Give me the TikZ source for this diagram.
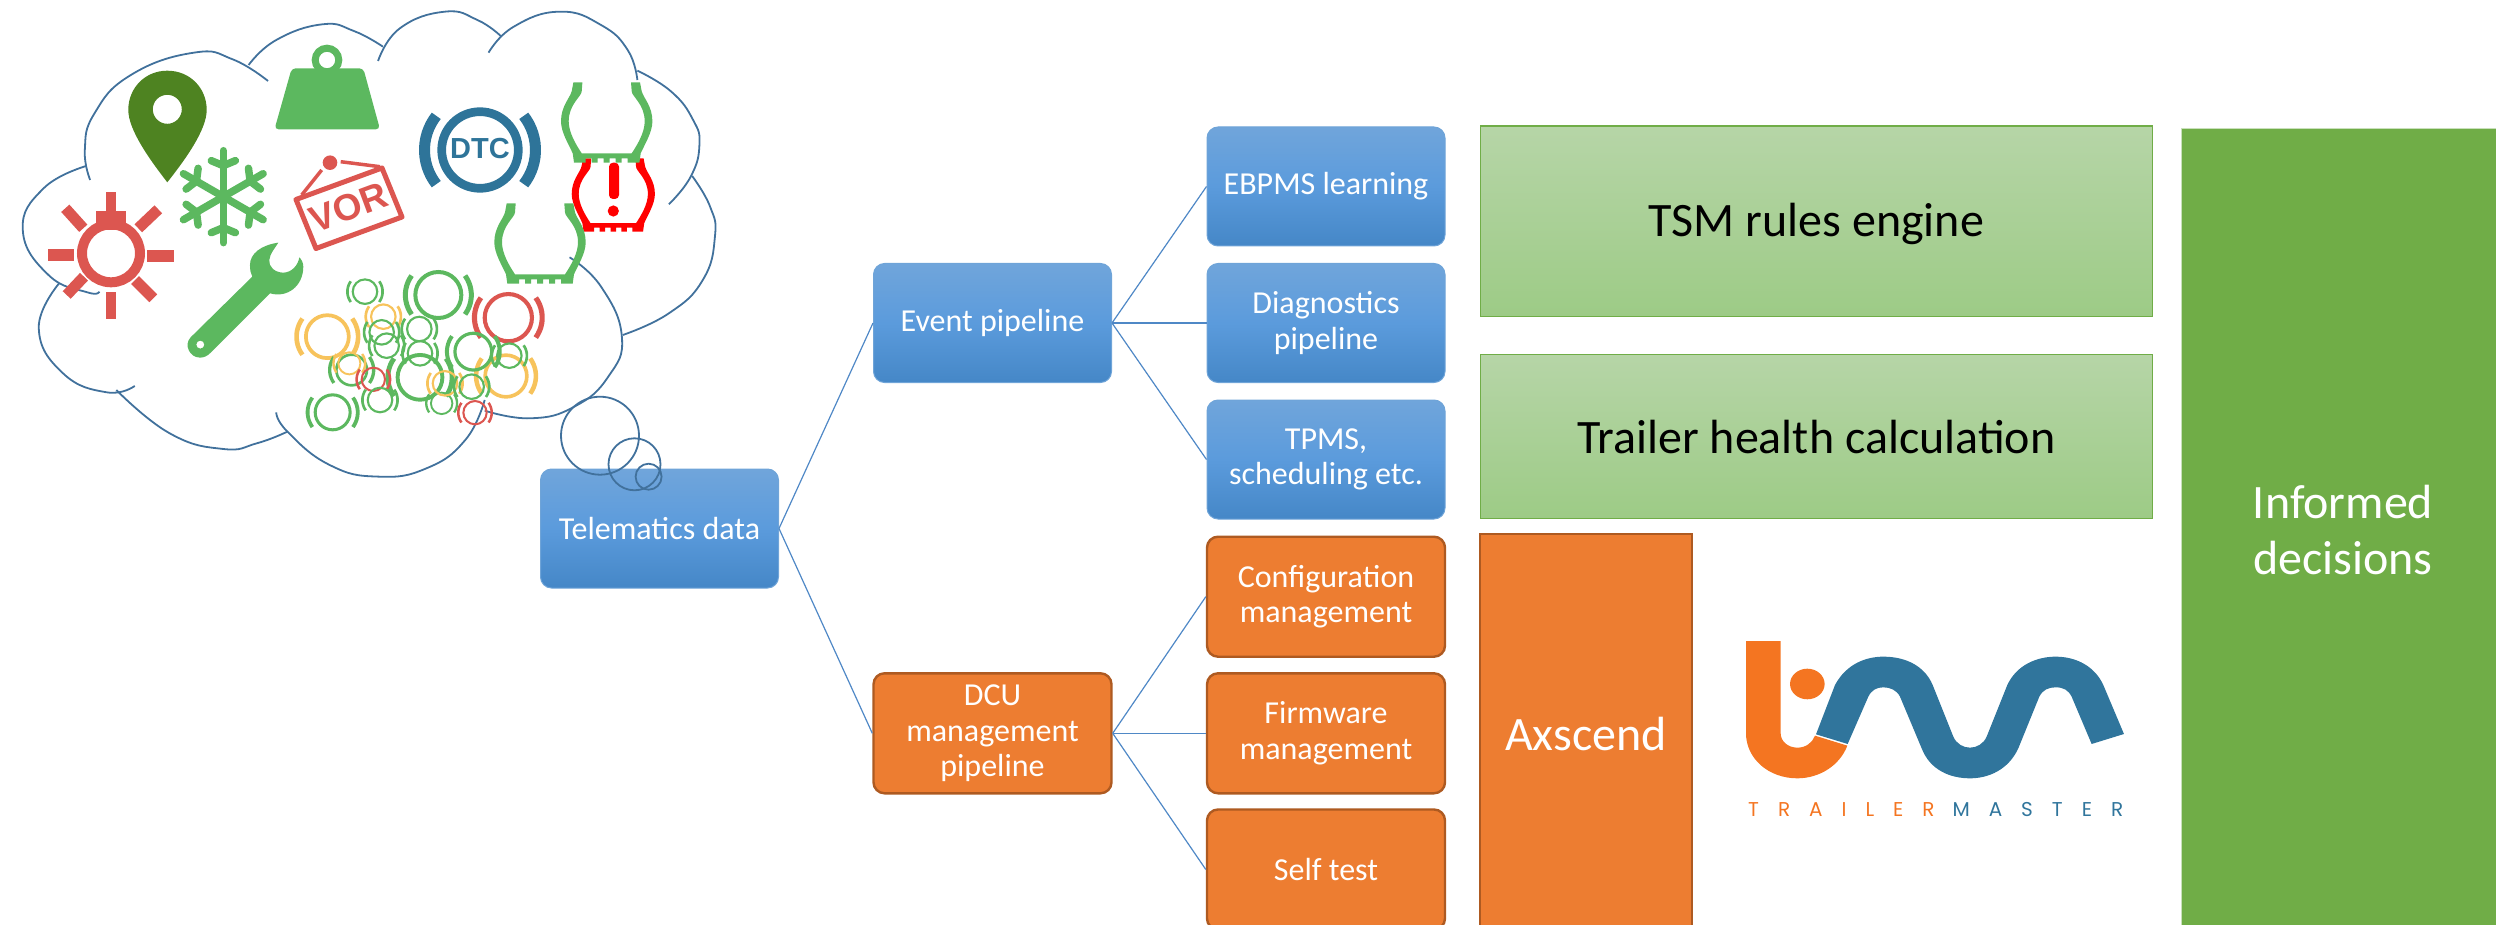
\documentclass[tikz,border=0pt]{standalone}
\usepackage{fontspec}
\setmainfont{Carlito}
\newfontfamily\iconfont{Liberation Sans}
\newfontfamily\logofont[LetterSpace=95]{Poppins}
\definecolor{bluetop}{HTML}{70A5DB}
\definecolor{bluemid}{HTML}{5B9BDC}
\definecolor{bluebot}{HTML}{4587C7}
\definecolor{blueedge}{HTML}{6FA4D8}
\definecolor{orangefill}{HTML}{ED7D31}
\definecolor{orangeedge}{HTML}{AE5A21}
\definecolor{greentop}{HTML}{B6D5A7}
\definecolor{greenbot}{HTML}{9DCB86}
\definecolor{greenedge}{HTML}{70AD47}
\definecolor{decide}{HTML}{70AD47}
\definecolor{decideedge}{HTML}{C9E0BB}
\definecolor{conn}{HTML}{4F88C6}
\definecolor{cloudc}{HTML}{41719C}
\definecolor{ig}{HTML}{5CB85F}
\definecolor{ir}{HTML}{DC5650}
\definecolor{iy}{HTML}{F7C35C}
\definecolor{pincol}{HTML}{4E8321}
\definecolor{dtc}{HTML}{2E7499}
\definecolor{logoo}{HTML}{F47521}
\definecolor{logob}{HTML}{30759C}
\tikzset{
  bluebox/.style={draw=blueedge,line width=1pt,rounded corners=11pt,top color=bluetop,bottom color=bluebot,middle color=bluemid,
    text=white,align=center,inner sep=0pt,minimum width=238pt,minimum height=119pt,font=\fontsize{32}{35.3}\selectfont},
  orangebox/.style={draw=orangeedge,line width=2.4pt,rounded corners=11pt,fill=orangefill,
    text=white,align=center,inner sep=0pt,minimum width=238pt,minimum height=120pt,font=\fontsize{32}{35.3}\selectfont},
  greenbox/.style={draw=greenedge,line width=1.4pt,top color=greentop,bottom color=greenbot,
    text=black,align=center,inner sep=0pt,minimum width=672pt,text depth=0pt,font=\fontsize{48}{55}\selectfont},
  link/.style={draw=conn,line width=1.2pt},
  cloudline/.style={draw=cloudc,line width=1.8pt},
  lobe/.style={smooth,tension=.8},
  pics/tire/.style={code={
    \fill[#1] (-33.3,0) -- (-24.3,0) -- (-25,9) .. controls (-25,14) and (-38,22) .. (-38,39)
      .. controls (-38,50) and (-31,62) .. (-25,71) -- (25,71) .. controls (31,62) and (38,50) .. (38,39)
      .. controls (38,22) and (25,14) .. (25,9) -- (24.3,0) -- (33.3,0) -- (35,9)
      .. controls (37,16) and (45.7,24) .. (45.7,39) .. controls (45.7,50) and (38,62) .. (34,71)
      -- (32.7,80.3) -- (21,80.3) -- (21,76) -- (15,76) -- (15,80.3) -- (9,80.3) -- (9,76) -- (3,76) -- (3,80.3)
      -- (-3,80.3) -- (-3,76) -- (-9,76) -- (-9,80.3) -- (-15,80.3) -- (-15,76) -- (-21,76) -- (-21,80.3)
      -- (-32.7,80.3) -- (-34,71) .. controls (-38,62) and (-45.7,50) .. (-45.7,39)
      .. controls (-45.7,24) and (-37,16) .. (-35,9) -- cycle;
  }}
}
\begin{document}
\begin{tikzpicture}[x=1pt,y=-1pt]
\useasboundingbox (0,0) rectangle (2496,925);
\clip (0,0) rectangle (2496,925);

% boxes
\node[bluebox] (tele) at (659.5,528.5) {Telematics data};
\node[bluebox] (event) at (992.5,323) {Event pipeline};
\node[bluebox] (ebpms) at (1326,186.5) {EBPMS learning};
\node[bluebox] (diag) at (1326,323) {Diagnostics\\pipeline};
\node[bluebox] (tpms) at (1326,459.5) {TPMS,\\scheduling etc.};
\node[orangebox] (dcu) at (992.5,733.3) {DCU\\management\\pipeline};
\node[orangebox] (conf) at (1326,596.7) {Configuration\\management};
\node[orangebox] (firm) at (1326,733.3) {Firmware\\management};
\node[orangebox] (self) at (1326,869.5) {Self test};
\node[greenbox,minimum height=190.7pt,text height=31pt] (tsm) at (1816.3,221.4) {TSM rules engine};
\node[greenbox,minimum height=164pt,text height=35pt] (health) at (1816.3,436.3) {Trailer health calculation};
\node[draw=orangeedge,line width=2.4pt,fill=orangefill,text=white,inner sep=0pt,minimum width=212pt,minimum height=400pt,font=\fontsize{48}{55}\selectfont] (ax) at (1586,734) {Axscend};
\node[draw=decideedge,line width=1pt,fill=decide,text=white,align=center,inner sep=0pt,minimum width=323pt,minimum height=802pt,font=\fontsize{48}{56.7}\selectfont] (inf) at (2343,530) {Informed\\decisions};

% connectors
\draw[link] (tele.east) -- (event.west);
\draw[link] (tele.east) -- (dcu.west);
\draw[link] (event.east) -- (ebpms.west);
\draw[link] (event.east) -- (diag.west);
\draw[link] (event.east) -- (tpms.west);
\draw[link] (dcu.east) -- (conf.west);
\draw[link] (dcu.east) -- (firm.west);
\draw[link] (dcu.east) -- (self.west);

% thought cloud
\begin{scope}[x=0.4847pt,y=-0.3333pt]
\draw[cloudline] plot[lobe] coordinates {(186,540)(175,450)(195,340)(270,225)(400,158)(480,178)(553,243)};
\draw[cloudline] plot[lobe] coordinates {(513,195)(570,120)(665,73)(730,93)(790,140)};
\draw[cloudline] plot[lobe] coordinates {(780,183)(825,85)(918,35)(985,60)(1033,108)};
\draw[cloudline] plot[lobe] coordinates {(1008,158)(1060,80)(1155,35)(1240,75)(1295,150)(1315,240)};
\draw[cloudline] plot[lobe] coordinates {(1315,212)(1385,275)(1430,360)(1443,435)(1425,530)(1380,613)};
\draw[cloudline] plot[lobe] coordinates {(1428,528)(1465,620)(1475,710)(1450,840)(1380,940)(1285,1005)};
\draw[cloudline] plot[lobe] coordinates {(1175,772)(1240,860)(1283,1010)(1255,1130)(1185,1220)(1095,1255)(1000,1232)};
\draw[cloudline] plot[lobe] coordinates {(1000,1200)(960,1320)(880,1405)(780,1430)(680,1395)(593,1295)(570,1237)};
\draw[cloudline] plot[lobe] coordinates {(593,1295)(530,1330)(460,1347)(350,1300)(240,1170)};
\draw[cloudline] plot[lobe] coordinates {(278,1158)(220,1177)(130,1120)(80,985)(122,850)};
\draw[cloudline] plot[lobe] coordinates {(205,875)(180,877)(100,825)(47,690)(90,565)(178,498)};
\end{scope}
\draw[cloudline] (600,435.7) circle[radius=39pt];
\draw[cloudline] (634.5,464.3) circle[radius=26pt];
\draw[cloudline] (648.6,476.7) circle[radius=13pt];

% sun
\draw[ir,line width=10pt] (111,253.3) circle[radius=29pt];
\fill[ir] (96,210.7) rectangle (126,230);
\fill[ir] (105.7,192.3) rectangle (116.3,211);
\fill[ir] (48.3,249.3) rectangle (74.3,260.7);
\fill[ir] (146.7,250) rectangle (174.3,261.7);
\fill[ir] (105.7,291.7) rectangle (116.3,318.7);
\draw[ir,line width=11pt] (65.3,208.3) -- (83.3,228.3);
\draw[ir,line width=11pt] (158.3,209.3) -- (138.3,228.3);
\draw[ir,line width=11pt] (66.7,295) -- (84,276.7);
\draw[ir,line width=11pt] (153.3,298.3) -- (135,280);

% location marker
\fill[pincol,even odd rule] (167.3,70.7) .. controls (190,70.7) and (206.7,88) .. (206.7,110)
  .. controls (206.7,130) and (185,160) .. (167.3,182.3)
  .. controls (150,160) and (128.3,130) .. (128.3,110)
  .. controls (128.3,88) and (145,70.7) .. (167.3,70.7) -- cycle
  (167.3,109.3) circle[radius=14.5pt];

% snowflake
\foreach \a in {30,90,150,210,270,330}{
  \begin{scope}[shift={(223.3,196.7)},rotate=\a]
    \draw[ig,line width=7.5pt,line cap=round] (0,0) -- (46,0);
    \draw[ig,line width=7.5pt,line cap=round] (36,-12) -- (31,0) -- (36,12);
  \end{scope}
}

% weight
\draw[ig,line width=7pt] (327,60) circle[radius=11.8pt];
\fill[ig,rounded corners=4pt] (291.7,68.3) -- (363.3,68.3) -- (380,129.3) -- (274.5,129.3) -- cycle;

% wrench
\begin{scope}[shift={(20,50)},x=.3333pt,y=-.3333pt]
\fill[ig,even odd rule] (775,578) .. controls (725,585) and (690,610) .. (690,645) .. controls (690,660) and (692,670) .. (697,680)
  -- (512,862) .. controls (490,885) and (510,923) .. (540,923) .. controls (552,923) and (562,918) .. (570,910)
  -- (750,730) .. controls (800,745) and (850,710) .. (850,650) .. controls (850,640) and (845,628) .. (838,622)
  .. controls (835,645) and (815,668) .. (790,668) .. controls (765,668) and (745,650) .. (748,630)
  .. controls (750,610) and (765,595) .. (775,578) -- cycle
  (541,884) circle[radius=4pt];
\end{scope}

% VOR sign
\draw[ir,line width=5pt,line join=round] (296,199.5) -- (382,168) -- (402,217) -- (316,248.5) -- cycle;
\fill[ir] (330,162.7) circle[radius=7.3pt];
\draw[ir,line width=3.5pt] (321.7,170) -- (301.7,195);
\draw[ir,line width=3.5pt] (340.7,161.7) -- (380,166.7);
\node[ir,rotate=20.3,inner sep=0pt,font=\iconfont\bfseries\fontsize{37}{37}\selectfont] (vor) at (349,207.5) {VOR};

% DTC
\draw[dtc,line width=8.7pt] (480,150) circle[radius=38.3pt];
\draw[dtc,line width=11pt] plot[domain=-38:38,samples=16,variable=\t] ({480+55.5*cos(\t)},{150+55.5*sin(\t)});
\draw[dtc,line width=11pt] plot[domain=142:218,samples=16,variable=\t] ({480+55.5*cos(\t)},{150+55.5*sin(\t)});
\node[dtc,inner sep=0pt,font=\iconfont\bfseries\fontsize{29}{29}\selectfont] (dtctext) at (480,149) {DTC};

% tyres
\pic[scale=.91] at (613.3,158.5) {tire=red};
\fill[red,rounded corners=4pt] (609,162.7) rectangle (619,199);
\fill[red] (613.3,211) circle[radius=5.6pt];
\pic at (606.7,82.3) {tire=ig};
\pic at (540,203.3) {tire=ig};

% brake warning rings
\foreach \zx/\zy/\zr/\cc in {
  172/290/70/iy, 340/230/40/iy, 285/155/40/ig, 505/165/75/ig, 715/233/77/ir,
  335/277/40/ig, 350/317/40/ig, 448/267/40/ig, 450/340/40/ig, 708/408/68/iy,
  610/335/60/ig, 718/347/40/ig, 450/412/73/ig, 245/390/50/ig, 238/370/36/iy,
  310/418/38/ir, 330/480/40/ig, 188/517/57/ig, 515/490/35/ig, 525/430/40/iy,
  605/440/40/ig, 615/518/38/ir}{
  \pgfmathsetmacro\bx{\zx/3+270}
  \pgfmathsetmacro\by{\zy/3+240}
  \pgfmathsetmacro\br{\zr/3}
  \pgfmathsetmacro\rr{\br*0.92}
  \pgfmathsetmacro\rw{\br*0.16}
  \pgfmathsetmacro\ar{\br*1.32}
  \pgfmathsetmacro\aw{\br*0.2}
  \draw[\cc,line width=\rw pt] (\bx,\by) circle[radius=\rr pt];
  \draw[\cc,line width=\aw pt] plot[domain=-36:36,samples=12,variable=\t] ({\bx+\ar*cos(\t)},{\by+\ar*sin(\t)});
  \draw[\cc,line width=\aw pt] plot[domain=144:216,samples=12,variable=\t] ({\bx+\ar*cos(\t)},{\by+\ar*sin(\t)});
}

% logo
\begin{scope}[shift={(1650,600)},x=.3333pt,y=-.3333pt]
\fill[logoo] (288,123) -- (392,123) -- (392,400) .. controls (392,425) and (415,443) .. (442,443)
  .. controls (468,443) and (487,428) .. (495,407) -- (592,437)
  .. controls (570,495) and (510,535) .. (442,535) .. controls (355,535) and (288,475) .. (288,400) -- cycle;
\fill[logoo] (472,252) ellipse[x radius=17.3pt,y radius=15.3pt];
\fill[logob] (498,403) -- (555,255) .. controls (590,190) and (650,170) .. (700,170)
  .. controls (770,170) and (825,200) .. (848,255) -- (910,410) .. controls (920,432) and (940,443) .. (960,443)
  .. controls (980,443) and (1000,432) .. (1010,410) -- (1072,255) .. controls (1100,195) and (1160,170) .. (1217,170)
  .. controls (1280,170) and (1335,200) .. (1360,255) -- (1422,402) -- (1325,432) -- (1265,290)
  .. controls (1255,270) and (1240,262) .. (1217,262) .. controls (1195,262) and (1178,270) .. (1168,290)
  -- (1105,445) .. controls (1075,510) and (1015,535) .. (960,535) .. controls (900,535) and (840,510) .. (815,445)
  -- (750,290) .. controls (740,270) and (720,262) .. (700,262) .. controls (680,262) and (665,270) .. (655,290)
  -- (593,432) -- cycle;
\node[logoo,anchor=base west,inner sep=0pt,font=\logofont\fontsize{20}{20}\selectfont] (lt) at (294,650) {TRAILER};
\node[logob,anchor=base west,inner sep=0pt,font=\logofont\fontsize{20}{20}\selectfont] (lm) at (907,650) {MASTER};
\end{scope}
\end{tikzpicture}
\end{document}
